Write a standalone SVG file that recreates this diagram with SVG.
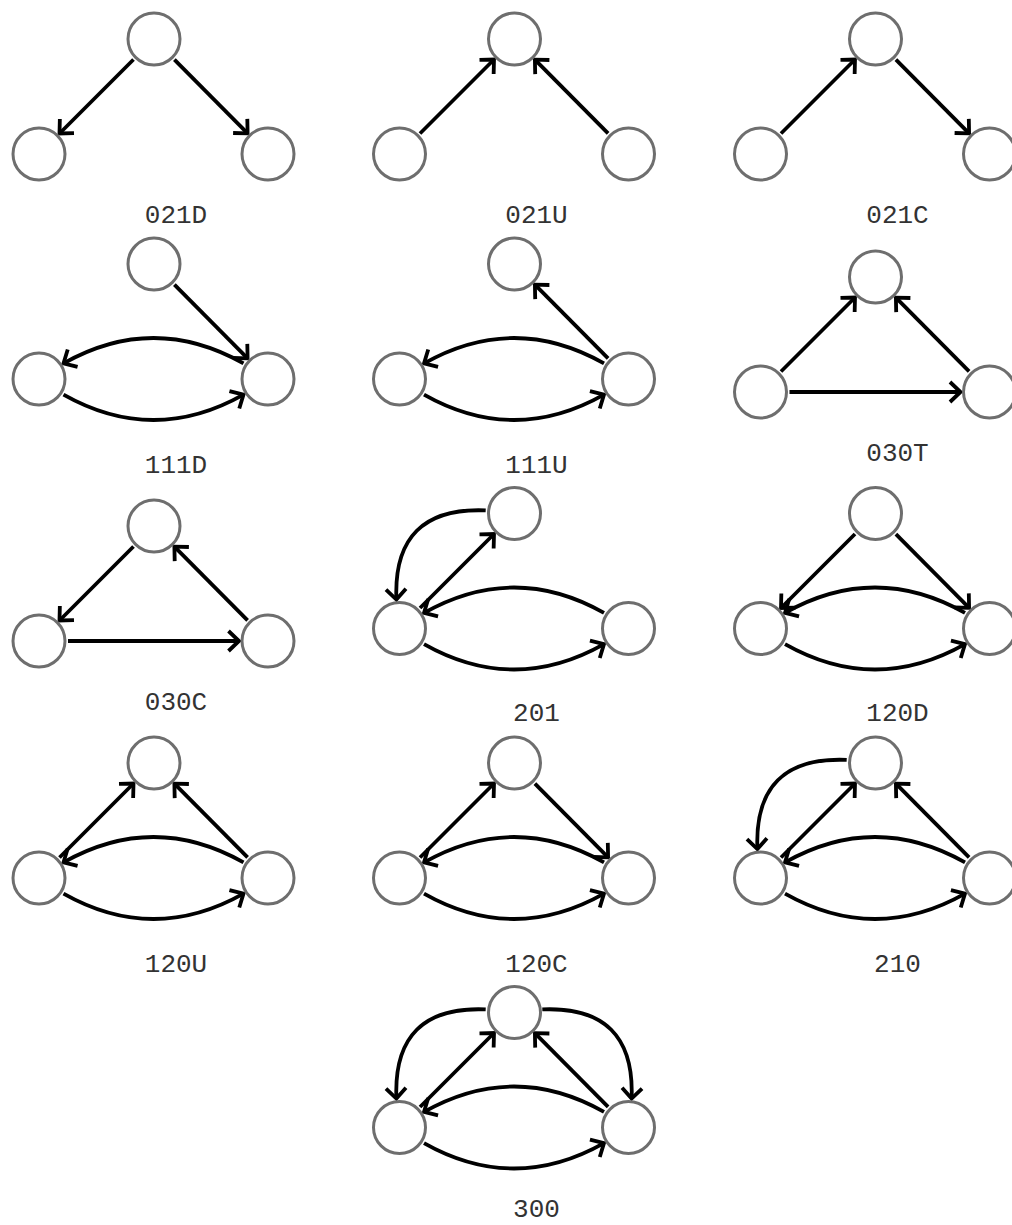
<svg xmlns="http://www.w3.org/2000/svg" width="1012" height="1225" viewBox="0 0 1012 1225">
  <defs>
    <style>
      .node circle { fill: #ffffff; stroke: #6e6e6e; stroke-width: 3; }
      .edges path { fill: none; stroke: #000000; stroke-width: 3.8; marker-end: url(#arrow); }
      .label { font-family: "Liberation Mono", "Courier New", monospace; font-size: 26px; fill: #333333; text-anchor: middle; }
    </style>
    <!-- open chevron head used by every directed edge -->
    <marker id="arrow" markerUnits="userSpaceOnUse" orient="auto" viewBox="-15 -15 30 30" markerWidth="30" markerHeight="30" refX="0" refY="0" overflow="visible">
      <path d="M-10.5,-10 L0,0 L-10.5,10" fill="none" stroke="#000000" stroke-width="3.8" stroke-linejoin="miter"/>
    </marker>
  </defs>

  <!-- Each triad is drawn in local coordinates: left node at (0,0), top node at (115,-115), right node at (229,0) -->

  <!-- 021D -->
  <g id="triad-021D" transform="translate(39,154)">
    <g id="edges-021D" class="edges">
      <path d="M94.5,-94.5 L20.5,-20.5"/>
      <path d="M135.4,-94.4 L208.6,-20.6"/>
    </g>
    <g id="n021D-top" class="node"><circle cx="115" cy="-115" r="26"/></g>
    <g id="n021D-left" class="node"><circle cx="0" cy="0" r="26"/></g>
    <g id="n021D-right" class="node"><circle cx="229" cy="0" r="26"/></g>
    <text class="label" x="137" y="68.5">021D</text>
  </g>

  <!-- 021U -->
  <g id="triad-021U" transform="translate(399.5,154)">
    <g id="edges-021U" class="edges">
      <path d="M20.5,-20.5 L94.5,-94.5"/>
      <path d="M208.6,-20.6 L135.4,-94.4"/>
    </g>
    <g id="n021U-top" class="node"><circle cx="115" cy="-115" r="26"/></g>
    <g id="n021U-left" class="node"><circle cx="0" cy="0" r="26"/></g>
    <g id="n021U-right" class="node"><circle cx="229" cy="0" r="26"/></g>
    <text class="label" x="137" y="68.5">021U</text>
  </g>

  <!-- 021C -->
  <g id="triad-021C" transform="translate(760.5,154)">
    <g id="edges-021C" class="edges">
      <path d="M20.5,-20.5 L94.5,-94.5"/>
      <path d="M135.4,-94.4 L208.6,-20.6"/>
    </g>
    <g id="n021C-top" class="node"><circle cx="115" cy="-115" r="26"/></g>
    <g id="n021C-left" class="node"><circle cx="0" cy="0" r="26"/></g>
    <g id="n021C-right" class="node"><circle cx="229" cy="0" r="26"/></g>
    <text class="label" x="137" y="68.5">021C</text>
  </g>

  <!-- 111D -->
  <g id="triad-111D" transform="translate(39,379)">
    <g id="edges-111D" class="edges">
      <path d="M135.4,-94.4 L208.6,-20.6"/>
      <path d="M204.5,-15.6 Q114.5,-66.4 24.5,-15.6"/>
      <path d="M24.5,15.6 Q114.5,66.4 204.5,15.6"/>
    </g>
    <g id="n111D-top" class="node"><circle cx="115" cy="-115" r="26"/></g>
    <g id="n111D-left" class="node"><circle cx="0" cy="0" r="26"/></g>
    <g id="n111D-right" class="node"><circle cx="229" cy="0" r="26"/></g>
    <text class="label" x="137" y="94">111D</text>
  </g>

  <!-- 111U -->
  <g id="triad-111U" transform="translate(399.5,379)">
    <g id="edges-111U" class="edges">
      <path d="M208.6,-20.6 L135.4,-94.4"/>
      <path d="M204.5,-15.6 Q114.5,-66.4 24.5,-15.6"/>
      <path d="M24.5,15.6 Q114.5,66.4 204.5,15.6"/>
    </g>
    <g id="n111U-top" class="node"><circle cx="115" cy="-115" r="26"/></g>
    <g id="n111U-left" class="node"><circle cx="0" cy="0" r="26"/></g>
    <g id="n111U-right" class="node"><circle cx="229" cy="0" r="26"/></g>
    <text class="label" x="137" y="94">111U</text>
  </g>

  <!-- 030T -->
  <g id="triad-030T" transform="translate(760.5,392)">
    <g id="edges-030T" class="edges">
      <path d="M20.5,-20.5 L94.5,-94.5"/>
      <path d="M208.6,-20.6 L135.4,-94.4"/>
      <path d="M29,0 L200,0"/>
    </g>
    <g id="n030T-top" class="node"><circle cx="115" cy="-115" r="26"/></g>
    <g id="n030T-left" class="node"><circle cx="0" cy="0" r="26"/></g>
    <g id="n030T-right" class="node"><circle cx="229" cy="0" r="26"/></g>
    <text class="label" x="137" y="69">030T</text>
  </g>

  <!-- 030C -->
  <g id="triad-030C" transform="translate(39,641)">
    <g id="edges-030C" class="edges">
      <path d="M94.5,-94.5 L20.5,-20.5"/>
      <path d="M208.6,-20.6 L135.4,-94.4"/>
      <path d="M29,0 L200,0"/>
    </g>
    <g id="n030C-top" class="node"><circle cx="115" cy="-115" r="26"/></g>
    <g id="n030C-left" class="node"><circle cx="0" cy="0" r="26"/></g>
    <g id="n030C-right" class="node"><circle cx="229" cy="0" r="26"/></g>
    <text class="label" x="137" y="68.5">030C</text>
  </g>

  <!-- 201 -->
  <g id="triad-201" transform="translate(399.5,628.5)">
    <g id="edges-201" class="edges">
      <path d="M86.2,-118.1 Q-7,-122 -3.1,-28.9"/>
      <path d="M20.5,-20.5 L94.5,-94.5"/>
      <path d="M204.5,-15.6 Q114.5,-66.4 24.5,-15.6"/>
      <path d="M24.5,15.6 Q114.5,66.4 204.5,15.6"/>
    </g>
    <g id="n201-top" class="node"><circle cx="115" cy="-115" r="26"/></g>
    <g id="n201-left" class="node"><circle cx="0" cy="0" r="26"/></g>
    <g id="n201-right" class="node"><circle cx="229" cy="0" r="26"/></g>
    <text class="label" x="137" y="92.5">201</text>
  </g>

  <!-- 120D -->
  <g id="triad-120D" transform="translate(760.5,628.5)">
    <g id="edges-120D" class="edges">
      <path d="M94.5,-94.5 L20.5,-20.5"/>
      <path d="M135.4,-94.4 L208.6,-20.6"/>
      <path d="M204.5,-15.6 Q114.5,-66.4 24.5,-15.6"/>
      <path d="M24.5,15.6 Q114.5,66.4 204.5,15.6"/>
    </g>
    <g id="n120D-top" class="node"><circle cx="115" cy="-115" r="26"/></g>
    <g id="n120D-left" class="node"><circle cx="0" cy="0" r="26"/></g>
    <g id="n120D-right" class="node"><circle cx="229" cy="0" r="26"/></g>
    <text class="label" x="137" y="92.5">120D</text>
  </g>

  <!-- 120U -->
  <g id="triad-120U" transform="translate(39,878)">
    <g id="edges-120U" class="edges">
      <path d="M20.5,-20.5 L94.5,-94.5"/>
      <path d="M208.6,-20.6 L135.4,-94.4"/>
      <path d="M204.5,-15.6 Q114.5,-66.4 24.5,-15.6"/>
      <path d="M24.5,15.6 Q114.5,66.4 204.5,15.6"/>
    </g>
    <g id="n120U-top" class="node"><circle cx="115" cy="-115" r="26"/></g>
    <g id="n120U-left" class="node"><circle cx="0" cy="0" r="26"/></g>
    <g id="n120U-right" class="node"><circle cx="229" cy="0" r="26"/></g>
    <text class="label" x="137" y="94">120U</text>
  </g>

  <!-- 120C -->
  <g id="triad-120C" transform="translate(399.5,878)">
    <g id="edges-120C" class="edges">
      <path d="M20.5,-20.5 L94.5,-94.5"/>
      <path d="M135.4,-94.4 L208.6,-20.6"/>
      <path d="M204.5,-15.6 Q114.5,-66.4 24.5,-15.6"/>
      <path d="M24.5,15.6 Q114.5,66.4 204.5,15.6"/>
    </g>
    <g id="n120C-top" class="node"><circle cx="115" cy="-115" r="26"/></g>
    <g id="n120C-left" class="node"><circle cx="0" cy="0" r="26"/></g>
    <g id="n120C-right" class="node"><circle cx="229" cy="0" r="26"/></g>
    <text class="label" x="137" y="94">120C</text>
  </g>

  <!-- 210 -->
  <g id="triad-210" transform="translate(760.5,878)">
    <g id="edges-210" class="edges">
      <path d="M86.2,-118.1 Q-7,-122 -3.1,-28.9"/>
      <path d="M20.5,-20.5 L94.5,-94.5"/>
      <path d="M208.6,-20.6 L135.4,-94.4"/>
      <path d="M204.5,-15.6 Q114.5,-66.4 24.5,-15.6"/>
      <path d="M24.5,15.6 Q114.5,66.4 204.5,15.6"/>
    </g>
    <g id="n210-top" class="node"><circle cx="115" cy="-115" r="26"/></g>
    <g id="n210-left" class="node"><circle cx="0" cy="0" r="26"/></g>
    <g id="n210-right" class="node"><circle cx="229" cy="0" r="26"/></g>
    <text class="label" x="137" y="93.5">210</text>
  </g>

  <!-- 300 -->
  <g id="triad-300" transform="translate(399.5,1127.5)">
    <g id="edges-300" class="edges">
      <path d="M86.2,-118.1 Q-7,-122 -3.1,-28.9"/>
      <path d="M142.8,-118.1 Q236,-122 232.1,-28.9"/>
      <path d="M20.5,-20.5 L94.5,-94.5"/>
      <path d="M208.6,-20.6 L135.4,-94.4"/>
      <path d="M204.5,-15.6 Q114.5,-66.4 24.5,-15.6"/>
      <path d="M24.5,15.6 Q114.5,66.4 204.5,15.6"/>
    </g>
    <g id="n300-top" class="node"><circle cx="115" cy="-115" r="26"/></g>
    <g id="n300-left" class="node"><circle cx="0" cy="0" r="26"/></g>
    <g id="n300-right" class="node"><circle cx="229" cy="0" r="26"/></g>
    <text class="label" x="137" y="89">300</text>
  </g>
</svg>
